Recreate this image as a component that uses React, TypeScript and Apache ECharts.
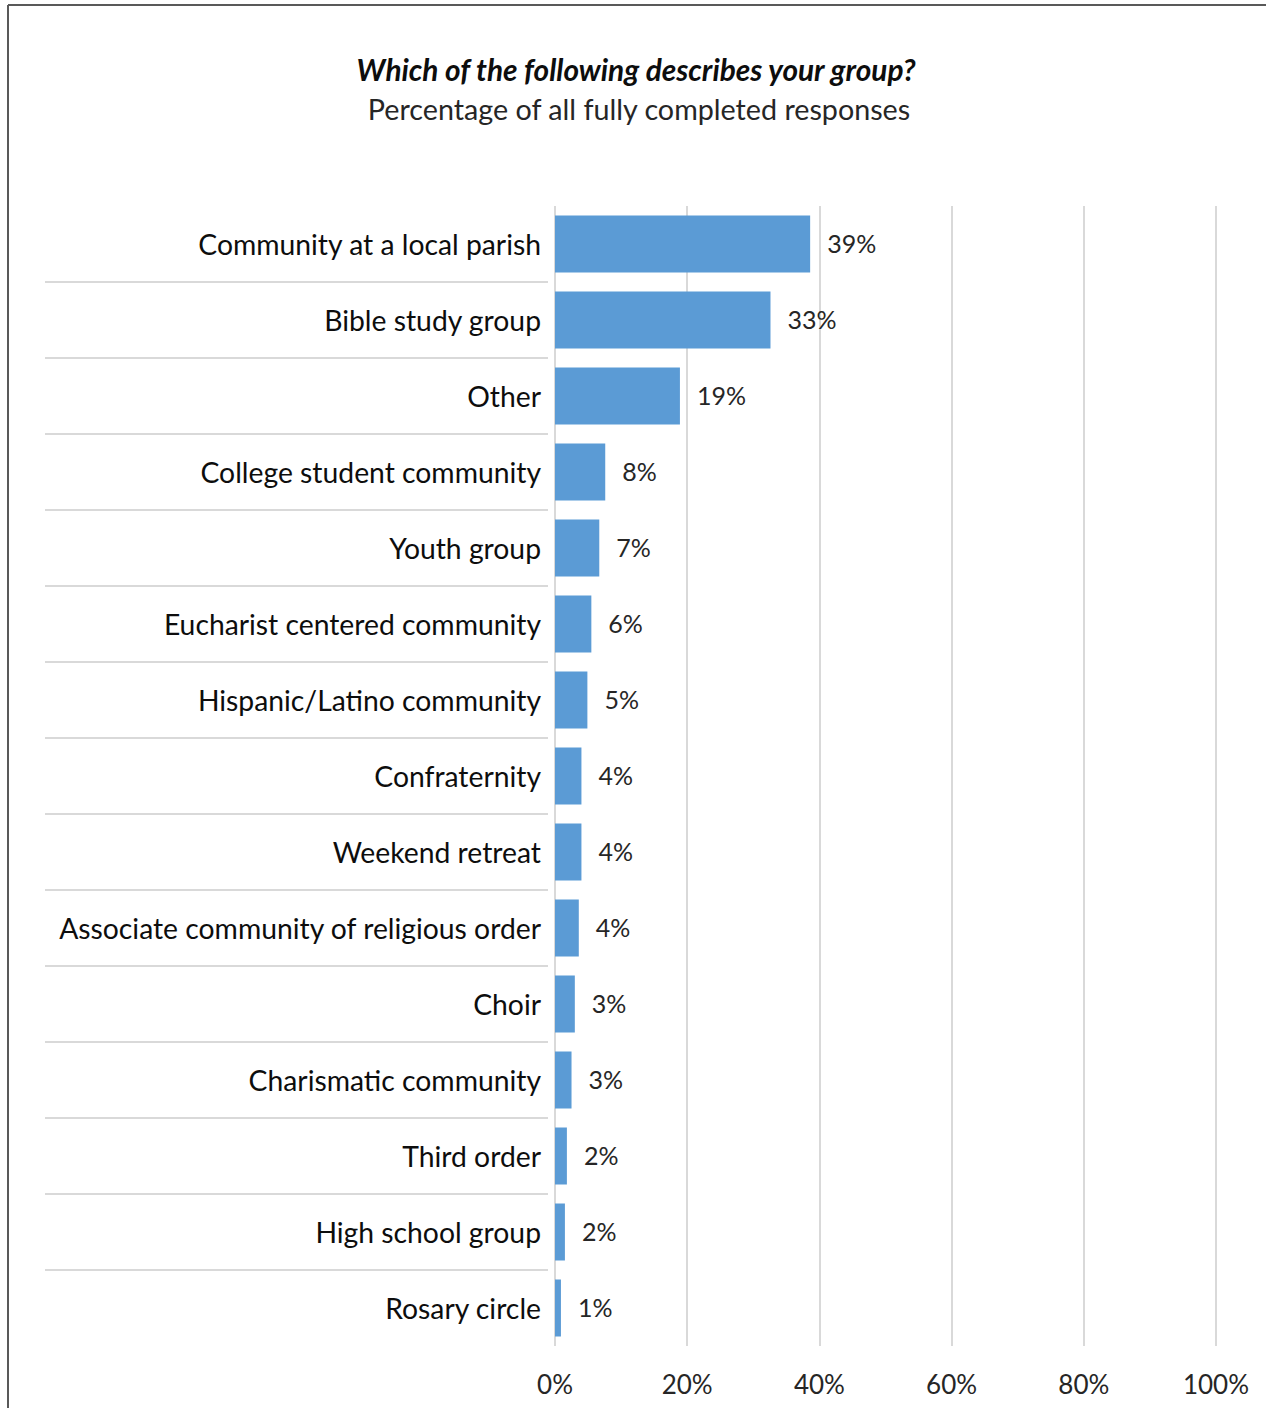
import React, { useEffect, useRef } from "react";
import * as echarts from "echarts";

const categories = [
  "Community at a local parish",
  "Bible study group",
  "Other",
  "College student community",
  "Youth group",
  "Eucharist centered community",
  "Hispanic/Latino community",
  "Confraternity",
  "Weekend retreat",
  "Associate community of religious order",
  "Choir",
  "Charismatic community",
  "Third order",
  "High school group",
  "Rosary circle",
];
const values = [38.6, 32.6, 18.9, 7.6, 6.7, 5.5, 4.9, 4.0, 4.0, 3.6, 3.0, 2.5, 1.8, 1.5, 0.9];
const xTicks = [0, 20, 40, 60, 80, 100];

const titleText = "Which of the following describes your group?";
const subtitleText = "Percentage of all fully completed responses";

const FONT = "Lato";

export default function App() {
  const ref = useRef<HTMLDivElement>(null);
  useEffect(() => {
    if (!ref.current) return;
    const chart = echarts.init(ref.current, undefined, { renderer: "svg" });
    chart.setOption({
      animation: false,
      backgroundColor: "#ffffff",
      textStyle: { fontFamily: FONT },
      title: [
        {
          text: titleText,
          left: 631,
          top: 49,
          textAlign: "center",
          textStyle: { fontFamily: FONT, fontSize: 29.8, fontWeight: "bold", fontStyle: "italic", color: "#0d0d0d" },
        },
        {
          text: subtitleText,
          left: 634,
          top: 89,
          textAlign: "center",
          textStyle: { fontFamily: FONT, fontSize: 28.7, fontWeight: "normal", color: "#262626" },
        },
      ],
      graphic: [
        { type: "line", shape: { x1: 8, y1: 5, x2: 1266, y2: 5 }, style: { stroke: "#595959", lineWidth: 2 } },
        { type: "line", shape: { x1: 8, y1: 5, x2: 8, y2: 1408 }, style: { stroke: "#595959", lineWidth: 2 } },
      ],
      grid: [
        { left: 555, right: 50, top: 206, bottom: 62, containLabel: false },
        { left: 45, width: 503, top: 206, bottom: 62, containLabel: false },
      ],
      xAxis: [
        {
          gridIndex: 0,
          type: "value",
          min: xTicks[0],
          max: xTicks[xTicks.length - 1],
          interval: 20,
          axisLine: { show: false },
          axisTick: { show: false },
          axisLabel: {
            formatter: "{value}%",
            fontFamily: FONT,
            fontSize: 26,
            color: "#262626",
            margin: 25,
          },
          splitLine: { show: true, lineStyle: { color: "#d9d9d9", width: 2 } },
        },
        { gridIndex: 1, type: "value", show: false, min: 0, max: 1 },
      ],
      yAxis: [
        {
          gridIndex: 0,
          type: "category",
          data: categories,
          inverse: true,
          axisLine: { show: false },
          axisTick: { show: false },
          axisLabel: { fontFamily: FONT, fontSize: 28.3, color: "#0d0d0d", margin: 14 },
          splitLine: { show: false },
        },
        {
          gridIndex: 1,
          type: "category",
          data: categories,
          inverse: true,
          axisLine: { show: false },
          axisTick: { show: false },
          axisLabel: { show: false },
          splitLine: {
            show: true,
            showMinLine: false,
            showMaxLine: false,
            lineStyle: { color: "#d9d9d9", width: 2 },
          },
        },
      ],
      series: [
        {
          type: "bar",
          xAxisIndex: 0,
          yAxisIndex: 0,
          data: values,
          barCategoryGap: "25%",
          itemStyle: { color: "#5b9bd5" },
          label: {
            show: true,
            position: "right",
            distance: 17,
            offset: [0, -1],
            formatter: (p: any) => Math.round(p.value) + "%",
            fontFamily: FONT,
            fontSize: 25,
            color: "#262626",
          },
        },
      ],
    });
    return () => chart.dispose();
  }, []);
  return (
    <div
      ref={ref}
      style={{ position: "absolute", left: 0, top: 0, width: 1266, height: 1408 }}
    />
  );
}
